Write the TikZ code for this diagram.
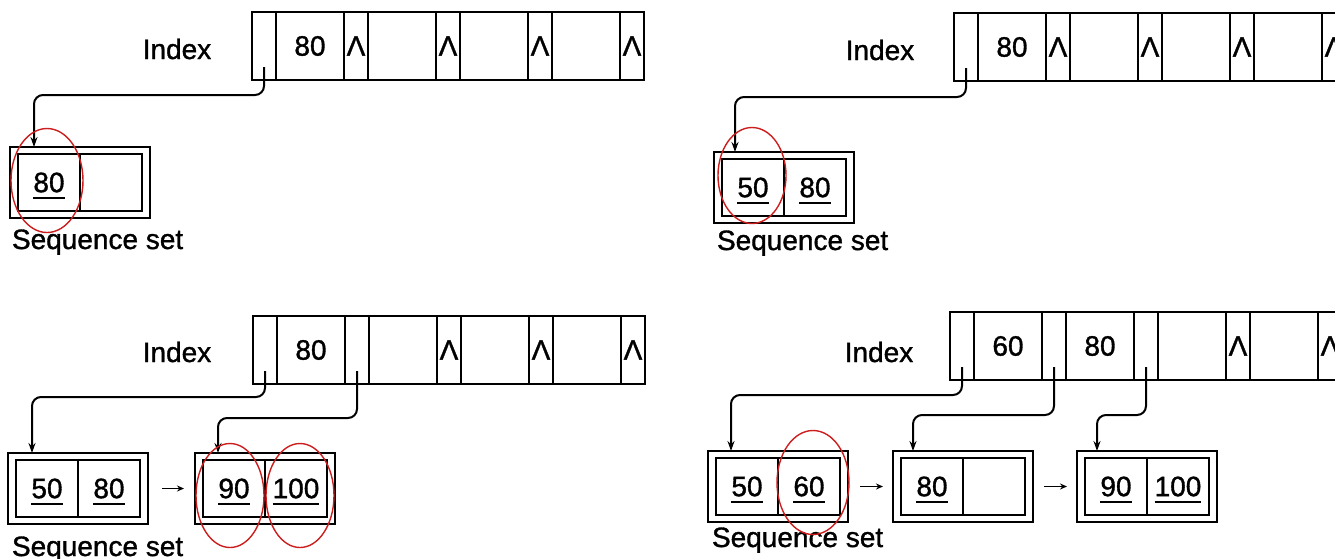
\documentclass[tikz,border=0pt]{standalone}
\usepackage{fontspec}
\setmainfont{Liberation Sans}[AutoFakeBold=1.2]
\usetikzlibrary{arrows.meta,calc,shapes.geometric}

% underlined key inside a sequence-set block
\newcommand\keyu[1]{\setbox0\hbox{#1}\rlap{\smash{\rule[-7pt]{\wd0}{2.4pt}}}\box0}
% null pointer mark
\newcommand\nilmark{\raisebox{-4pt}{Λ}}

% one index record: #1 name prefix, #2 north-west corner, #3 the nine cell contents
\newcommand\indexrow[3]{%
  \foreach \t [count=\i from 0] in {#3} {%
    \pgfmathtruncatemacro\j{\i-1}%
    \ifnum\i=0
      \node[pcell, anchor=north west] (#10) at (#2) {\t};
    \else\ifodd\i
      \node[kcell, anchor=west] (#1\i) at (#1\j.east) {\t};
    \else
      \node[pcell, anchor=west] (#1\i) at (#1\j.east) {\t};
    \fi\fi
  }}

% one sequence-set block: #1 name, #2 north-west corner, #3 left key, #4 right key
\newcommand\seqblock[4]{%
  \node[outerbox, anchor=north west] (#1) at (#2) {};
  \node[scell, anchor=north west] (#1a) at ($(#1.north west)+(8,7)$) {#3};
  \node[scell, anchor=west] (#1b) at (#1a.east) {#4};
}

\tikzset{
  every node/.style={font=\fontsize{28}{32}\selectfont\bfseries, inner sep=0pt, outer sep=0pt},
  pcell/.style={draw, line width=1.8pt, minimum width=24pt, minimum height=68pt},
  kcell/.style={pcell, minimum width=68pt},
  outerbox/.style={draw, line width=2pt, minimum width=140pt, minimum height=71pt},
  scell/.style={draw, line width=1.7pt, minimum width=62pt, minimum height=57pt},
  ptr/.style={line width=2pt, rounded corners=9pt, -{Stealth[length=10pt,width=7pt]}},
  nextarrow/.style={line width=1.4pt, -{Stealth[length=7pt,width=6pt]}},
  ring/.style={ellipse, draw={rgb,255:red,205;green,30;blue,30}, line width=1.4pt},
  caption/.style={anchor=base west},
}

\begin{document}
\begin{tikzpicture}[x=1pt,y=-1pt]
\useasboundingbox (0,0) rectangle (1335,558);
\fill[white] (0,0) rectangle (1335,558);
\clip (0,0) rectangle (1335,558);

% ---------- first state: one block ----------
\node (ix1) at (177,49) {Index};
\indexrow{i1c}{252,12}{{},80,\nilmark,{},\nilmark,{},\nilmark,{},\nilmark}
\seqblock{s1}{10,147}{\keyu{80}}{}
\node[caption] (sq1) at (12,249) {Sequence set};
\draw[ptr] ($(i1c0.south)+(0,-13)$) -- ++(0,28) -| ($(s1.north west)+(24,0)$);
\node[ring, minimum width=72pt, minimum height=104pt] (r1) at ($(s1a)+(-2,-2)$) {};

% ---------- second state: 50 inserted ----------
\node (ix2) at (880,50) {Index};
\indexrow{i2c}{954,13}{{},80,\nilmark,{},\nilmark,{},\nilmark,{},\nilmark}
\seqblock{s2}{714,152}{\keyu{50}}{\keyu{80}}
\node[caption] (sq2) at (717,250) {Sequence set};
\draw[ptr] ($(i2c0.south)+(0,-13)$) -- ++(0,29) -| ($(s2.north west)+(21,0)$);
\node[ring, minimum width=68pt, minimum height=96pt] (r2) at ($(s2a)+(-1,-12)$) {};

% ---------- third state: split into two blocks ----------
\node (ix3) at (177,352) {Index};
\indexrow{i3c}{253,316}{{},80,{},{},\nilmark,{},\nilmark,{},\nilmark}
\seqblock{s3}{8,453}{\keyu{50}}{\keyu{80}}
\seqblock{t3}{195,453}{\keyu{90}}{\keyu{100}}
\node[caption] (sq3) at (12,556) {Sequence set};
\draw[ptr] ($(i3c0.south)+(0,-13)$) -- ++(0,26) -| ($(s3.north west)+(24,0)$);
\draw[ptr] ($(i3c2.south)+(0,-13)$) -- ++(0,47) -| ($(t3.north west)+(23,0)$);
\draw[nextarrow, shorten <=14pt, shorten >=11pt] (s3.east) -- (t3.west);
\node[ring, minimum width=68pt, minimum height=104pt] (r3) at ($(t3a)+(-4,7)$) {};
\node[ring, minimum width=68pt, minimum height=104pt] (r4) at ($(t3b)+(4,7)$) {};

% ---------- fourth state: three blocks ----------
\node (ix4) at (879,352) {Index};
\indexrow{i4c}{950,312}{{},60,{},80,{},{},\nilmark,{},\nilmark}
\seqblock{s4}{708,451}{\keyu{50}}{\keyu{60}}
\seqblock{t4}{893,451}{\keyu{80}}{}
\seqblock{u4}{1077,451}{\keyu{90}}{\keyu{100}}
\node[caption] (sq4) at (712,547) {Sequence set};
\draw[ptr] ($(i4c0.south)+(0,-13)$) -- ++(0,28) -| ($(s4.north west)+(23,0)$);
\draw[ptr] ($(i4c2.south)+(0,-13)$) -- ++(0,48) -| ($(t4.north west)+(20,0)$);
\draw[ptr] ($(i4c4.south)+(0,-13)$) -- ++(0,48) -| ($(u4.north west)+(20,0)$);
\draw[nextarrow, shorten <=12pt, shorten >=10pt] (s4.east) -- (t4.west);
\draw[nextarrow, shorten <=11pt, shorten >=10pt] (t4.east) -- (u4.west);
\node[ring, minimum width=72pt, minimum height=104pt] (r5) at ($(s4b)+(4,-4)$) {};
\end{tikzpicture}
\end{document}
